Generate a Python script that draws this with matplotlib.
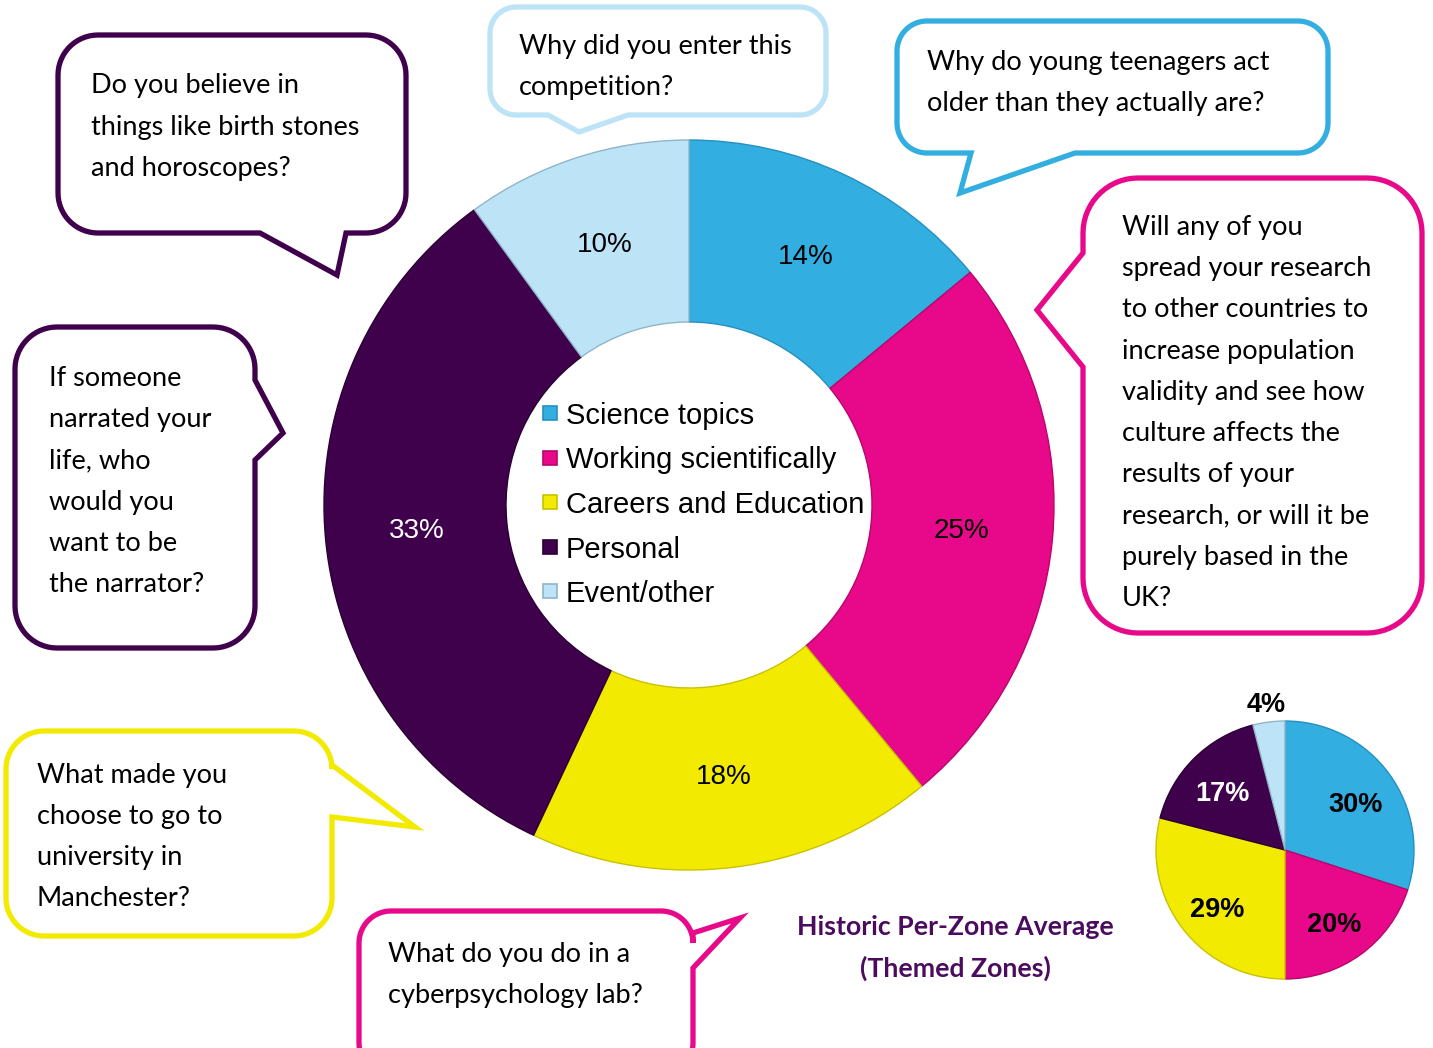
import numpy as np
import matplotlib.pyplot as plt
from matplotlib.patches import Polygon, Rectangle

W, H = 1433, 1048

# survey breakdown of question themes
categories = ['Science topics', 'Working scientifically', 'Careers and Education',
              'Personal', 'Event/other']
current_pct = [14, 25, 18, 33, 10]
historic_pct = [30, 20, 29, 17, 4]
colors = ['#33AEE1', '#E8088A', '#F2EA00', '#3F004C', '#BDE3F6']
edge_colors = ['#2590C0', '#B8066C', '#C9C200', '#2A0033', '#8FB5C8']
current_label_colors = ['black', 'black', 'black', 'white', 'black']
historic_label_colors = ['black', 'black', 'black', 'white', 'black']

historic_title = 'Historic Per-Zone Average\n(Themed Zones)'

questions = [
    'Do you believe in\nthings like birth stones\nand horoscopes?',
    'Why did you enter this\ncompetition?',
    'Why do young teenagers act\nolder than they actually are?',
    'Will any of you\nspread your research\nto other countries to\nincrease population\n'
    'validity and see how\nculture affects the\nresults of your\nresearch, or will it be\n'
    'purely based in the\nUK?',
    'If someone\nnarrated your\nlife, who\nwould you\nwant to be\nthe narrator?',
    'What made you\nchoose to go to\nuniversity in\nManchester?',
    'What do you do in a\ncyberpsychology lab?',
]
question_colors = ['#3F004C', '#BDE3F6', '#33AEE1', '#E8088A', '#3F004C', '#F2EA00', '#E8088A']

# bubble geometry in pixels (y down): box, corner radius, tail side, tail points, text anchor
bubble_layout = [
    dict(box=(58, 35, 406, 233), r=40, side='bottom',
         tail=[(260, 233), (337, 275), (346, 233)], text=(91, 83, 41.5)),
    dict(box=(490, 7, 826, 115), r=26, side='bottom',
         tail=[(548, 115), (579, 132), (628, 115)], text=(519, 44, 41)),
    dict(box=(897, 21, 1328, 153), r=30, side='bottom',
         tail=[(971, 153), (960, 193), (1075, 153)], text=(927, 60, 40.5)),
    dict(box=(1083, 178, 1422, 633), r=55, side='left',
         tail=[(1083, 253), (1037, 310), (1083, 367)], text=(1122, 225, 41.2)),
    dict(box=(15, 327, 255, 648), r=42, side='right',
         tail=[(255, 380), (283, 433), (255, 460)], text=(49, 376, 41.2)),
    dict(box=(6, 731, 332, 936), r=38, side='right',
         tail=[(332, 765), (415, 827), (332, 817)], text=(37, 773, 41)),
    dict(box=(359, 911, 693, 1075), r=32, side='right',
         tail=[(693, 933), (740, 918), (693, 968)], text=(388, 952, 41)),
]


def P(x, y):
    return (x, H - y)


def bubble_outline(box, r, side, tail):
    x0, y0, x1, y1 = box
    a, tip, b = tail
    key = {'top': (0, 1), 'right': (1, 1), 'bottom': (0, -1), 'left': (1, -1)}
    k, sgn = key[side]
    if sgn * a[k] > sgn * b[k]:
        a, b = b, a
    seq = [a, tip, b]
    pts = []

    def arc(cx, cy, a0, a1):
        for t in np.radians(np.linspace(a0, a1, 16)):
            pts.append((cx + r * np.cos(t), cy + r * np.sin(t)))

    arc(x0 + r, y0 + r, 180, 270)
    if side == 'top':
        pts.extend(seq)
    arc(x1 - r, y0 + r, 270, 360)
    if side == 'right':
        pts.extend(seq)
    arc(x1 - r, y1 - r, 0, 90)
    if side == 'bottom':
        pts.extend(seq)
    arc(x0 + r, y1 - r, 90, 180)
    if side == 'left':
        pts.extend(seq)
    return [P(x, y) for x, y in pts]


fig = plt.figure(figsize=(W / 100, H / 100), dpi=100)
ax = fig.add_axes([0, 0, 1, 1])

# main donut
wedges, _, pct_texts = ax.pie(current_pct, colors=colors, radius=365, center=P(689, 505),
                              startangle=90, counterclock=False,
                              autopct=lambda p: f'{p:.0f}%', pctdistance=0.75,
                              wedgeprops=dict(width=182, linewidth=1.0),
                              textprops=dict(family='Liberation Sans', fontsize=20))
for w, ec in zip(wedges, edge_colors):
    w.set_edgecolor(ec)
for t, c in zip(pct_texts, current_label_colors):
    t.set_color(c)

# legend in the donut hole
for i, (name, c, ec) in enumerate(zip(categories, colors, edge_colors)):
    yc = 413 + i * 44.5
    ax.add_patch(Rectangle(P(543, yc + 7), 14, 14, fc=c, ec=ec, lw=1.2, zorder=5))
    ax.text(*P(566, yc), name, family='Liberation Sans', fontsize=21,
            va='center_baseline', ha='left', zorder=5)

# historic pie
hwedges, _ = ax.pie(historic_pct, colors=colors, radius=129, center=P(1285, 850),
                    startangle=90, counterclock=False, wedgeprops=dict(linewidth=1.0))
label_dist = [0.68, 0.65, 0.67, 0.69, 1.19]
cx, cy = P(1285, 850)
for w, ec, v, d, c in zip(hwedges, edge_colors, historic_pct, label_dist,
                          historic_label_colors):
    w.set_edgecolor(ec)
    th = np.radians((w.theta1 + w.theta2) / 2)
    ax.text(cx + d * 129 * np.cos(th), cy + d * 129 * np.sin(th) - 4, f'{v}%',
            family='Liberation Sans', weight='bold', fontsize=19.5, color=c,
            ha='center', va='center_baseline')

for k, line in enumerate(historic_title.split('\n')):
    ax.text(*P(955, 925 + 41 * k), line, family='Lato', weight='bold', fontsize=19.2,
            color='#4B0C5F', ha='center', va='center_baseline')

# question bubbles
for q, c, lay in zip(questions, question_colors, bubble_layout):
    ax.add_patch(Polygon(bubble_outline(lay['box'], lay['r'], lay['side'], lay['tail']),
                         closed=True, fc='white', ec=c, lw=3.8, joinstyle='miter', zorder=6))
    tx, ty, step = lay['text']
    for k, line in enumerate(q.split('\n')):
        ax.text(*P(tx, ty + k * step), line, family='Lato', fontsize=19.5,
                ha='left', va='center_baseline', zorder=7)

ax.set_xlim(0, W)
ax.set_ylim(0, H)
ax.set_aspect('equal')
ax.axis('off')

fig.savefig('out.png', dpi=100)
